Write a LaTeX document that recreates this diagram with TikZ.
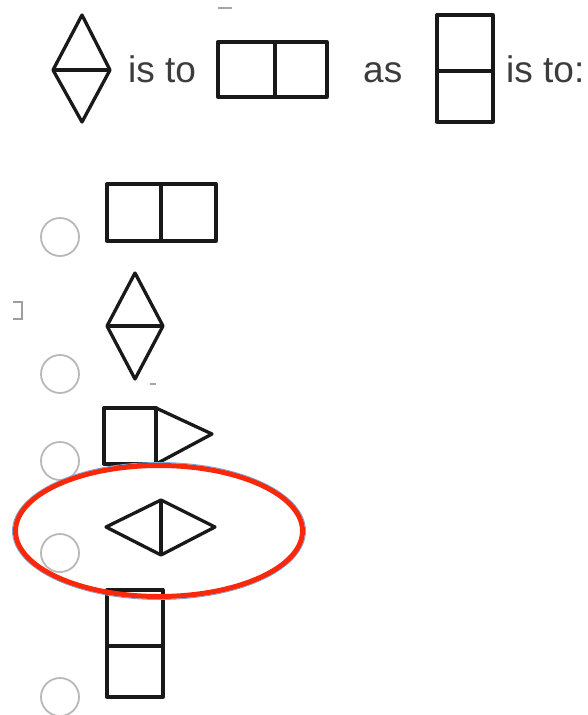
\documentclass[tikz,border=0pt]{standalone}
\usepackage{fontspec}
\setmainfont{Liberation Sans}
\definecolor{txtgray}{RGB}{60,60,60}
\definecolor{radiogray}{RGB}{185,185,185}
\definecolor{markred}{RGB}{250,40,10}
\definecolor{markblue}{RGB}{120,170,220}
\tikzset{
  fig/.style={draw=black!90, line width=3.3pt, line join=round},
  word/.style={inner sep=0pt, anchor=base west, text=txtgray, font=\fontsize{37}{40}\selectfont},
  radio/.style={circle, draw=radiogray, line width=1.8pt, minimum size=38pt, inner sep=0pt, fill=white},
  speck/.style={draw=gray!70, line width=1.8pt}
}
\begin{document}
\begin{tikzpicture}[x=1pt,y=-1pt]
\useasboundingbox[fill=white] (0,0) rectangle (588,715);

% ---- top row ----
\draw[fig] (82,15) -- (110,70) -- (82,122) -- (53,70) -- cycle;
\draw[fig] (53,70) -- (110,70);
\node[word] (t1) at (128,82) {is to};
\draw[fig] (218,42) rectangle (327,97);
\draw[fig] (275,42) -- (275,97);
\node[word] (t2) at (363,82) {as};
\draw[fig] (437,15) rectangle (493,122);
\draw[fig] (437,71) -- (493,71);
\node[word] (t3) at (506,82) {is to:};
\draw[speck] (218,8) -- (232,8);

% ---- options ----
\node[radio] (r1) at (60,237) {};
\node[radio] (r2) at (60,374) {};
\node[radio] (r3) at (60,461) {};
\node[radio] (r4) at (60,553) {};
\node[radio] (r5) at (60,697) {};

% A
\draw[fig] (107,184) rectangle (216,241);
\draw[fig] (161,184) -- (161,241);
% stray bracket
\draw[draw=gray!75, line width=1.5pt] (13,302) -- (22,302) -- (22,319) -- (13,319);
% B
\draw[fig] (135,273) -- (163,326) -- (135,379) -- (107,326) -- cycle;
\draw[fig] (107,326) -- (163,326);
\draw[speck] (150,384) -- (156,384);
% C
\draw[fig] (104,408) rectangle (156,464);
\draw[fig] (156,408) -- (212,434) -- (156,464);
% D
\draw[fig] (106,527) -- (161,500) -- (215,527) -- (161,555) -- cycle;
\draw[fig] (161,500) -- (161,555);
% E
\draw[fig] (107,590) rectangle (163,697);
\draw[fig] (107,646) -- (163,646);

% highlight ellipse
\draw[draw=markblue, line width=0.9pt] (159,531) ellipse [x radius=146.5, y radius=68.5];
\draw[draw=markred, line width=5pt] (159,531) ellipse [x radius=143.5, y radius=65.5];
\end{tikzpicture}
\end{document}
